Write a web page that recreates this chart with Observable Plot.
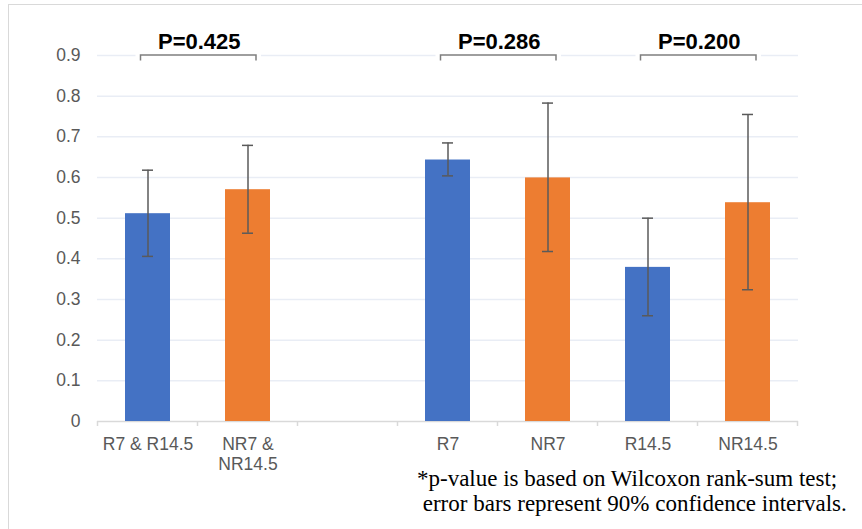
<!DOCTYPE html>
<html><head><meta charset="utf-8">
<script src="https://cdn.jsdelivr.net/npm/d3@7"></script>
<script src="https://cdn.jsdelivr.net/npm/@observablehq/plot@0.6"></script>
<style>
html,body{margin:0;padding:0;background:#fff;}
#wrap{position:relative;width:862px;height:529px;overflow:hidden;background:#fff;}
#chart{position:absolute;left:0;top:0;}
#border{position:absolute;left:8px;top:4px;width:900px;height:600px;border:1.5px solid #d9d9d9;pointer-events:none;}
#caption{position:absolute;left:417px;top:466px;font-family:"Liberation Serif","Times New Roman",serif;font-size:23px;line-height:25px;color:#000;white-space:pre;}
</style></head><body>
<div id="wrap"><div id="chart"></div><div id="caption"></div><div id="border"></div></div>
<script>
// ---- data ----
const categories = ["R7 & R14.5", "NR7 &\nNR14.5", "", "R7", "NR7", "R14.5", "NR14.5"];
const groups     = ["R", "NR", null, "R", "NR", "R", "NR"];
const means      = [0.511, 0.570, null, 0.643, 0.599, 0.379, 0.538];
const lowerCI    = [0.406, 0.463, null, 0.604, 0.418, 0.260, 0.324];
const upperCI    = [0.618, 0.679, null, 0.685, 0.783, 0.500, 0.755];
const compareA   = ["R7 & R14.5", "R7", "R14.5"];
const compareB   = ["NR7 &\nNR14.5", "NR7", "NR14.5"];
const pLabels    = ["P=0.425", "P=0.286", "P=0.200"];
const bracketLevel = 0.9;
const yTicks = [0, 0.1, 0.2, 0.3, 0.4, 0.5, 0.6, 0.7, 0.8, 0.9];
const groupNames = ["R", "NR"];
const groupColors = ["#4472C4", "#ED7D31"];
const captionLines = ["*p-value is based on Wilcoxon rank-sum test;", " error bars represent 90% confidence intervals."];

const rows = categories.map((c, i) => ({cat: c, group: groups[i], mean: means[i], lo: lowerCI[i], hi: upperCI[i]}))
  .filter(d => d.mean != null);
const comparisons = compareA.map((a, i) => ({a, b: compareB[i], label: pLabels[i]}));

const W = 862, H = 480, mL = 97, mR = 64, mT = 55, mB = 59;
const pIn = 0.55, pOut = 0.275;

function overlay(index, scales) {
  const sx = scales.x, sy = scales.y;
  const n = categories.length;
  const step = sx.step ? sx.step() : (W - mL - mR) / (n - pIn + 2 * pOut);
  const bw = sx.bandwidth ? sx.bandwidth() : step * (1 - pIn);
  const g = d3.create("svg:g");
  const y0 = sy(0);
  // category boundary ticks
  const bounds = categories.map(c => sx(c) - (step - bw) / 2);
  bounds.push(sx(categories[n - 1]) + bw + (step - bw) / 2);
  g.selectAll("line.bt").data(bounds).join("line")
    .attr("x1", d => d).attr("x2", d => d).attr("y1", y0).attr("y2", y0 + 5)
    .attr("stroke", "#d9d9d9").attr("stroke-width", 1.5);
  // brackets
  const yb = sy(bracketLevel);
  for (const c of comparisons) {
    const x1 = sx(c.a) + bw / 2 - 7, x2 = sx(c.b) + bw / 2 + 8.5;
    g.append("line").attr("x1", x1 - 5).attr("x2", x2 + 5).attr("y1", yb).attr("y2", yb)
      .attr("stroke", "#fff").attr("stroke-width", 4);
    g.append("path").attr("d", `M${x1},${yb + 5.5}V${yb}H${x2}V${yb + 5.5}`)
      .attr("fill", "none").attr("stroke", "#7f7f7f").attr("stroke-width", 1.5);
    g.append("text").attr("x", (x1 + x2) / 2 + 1).attr("y", yb - 6)
      .attr("text-anchor", "middle").attr("font-size", 22).attr("font-weight", "bold")
      .attr("font-family", "'Liberation Sans', Arial, sans-serif").attr("fill", "#000")
      .text(c.label);
  }
  return g.node();
}

const chart = Plot.plot({
  width: W, height: H,
  marginLeft: mL, marginRight: mR, marginTop: mT, marginBottom: mB,
  style: {fontFamily: "'Liberation Sans', Arial, sans-serif", fontSize: "17.5px", background: "transparent"},
  x: {type: "band", domain: categories, paddingInner: pIn, paddingOuter: pOut, align: 0.5, axis: null},
  y: {domain: [0, 0.9], axis: null},
  color: {domain: groupNames, range: groupColors},
  marks: [
    Plot.ruleY(yTicks.filter(d => d > 0), {stroke: "#e9edf5", strokeWidth: 1.5}),
    Plot.ruleY([0], {stroke: "#d9d9d9", strokeWidth: 1.5}),
    Plot.barY(rows, {x: "cat", y: "mean", fill: "group"}),
    Plot.ruleX(rows, {x: "cat", y1: "lo", y2: "hi", stroke: "#5a5a5a", strokeWidth: 1.5}),
    Plot.tickY(rows, {x: "cat", y: "lo", stroke: "#5a5a5a", strokeWidth: 1.5, insetLeft: 17, insetRight: 17}),
    Plot.tickY(rows, {x: "cat", y: "hi", stroke: "#5a5a5a", strokeWidth: 1.5, insetLeft: 17, insetRight: 17}),
    overlay,
    Plot.axisX({tickSize: 0, tickPadding: 15, fontSize: 17.5, lineHeight: 1.12, color: "#595959", label: null}),
    Plot.axisY({ticks: yTicks, tickSize: 0, tickPadding: 17, fontSize: 17.5, color: "#595959", label: null,
      tickFormat: d => d === 0 ? "0" : d.toFixed(1)})
  ]
});
document.getElementById("chart").appendChild(chart);
document.getElementById("caption").textContent = captionLines.join("\n");
</script>
</body></html>
